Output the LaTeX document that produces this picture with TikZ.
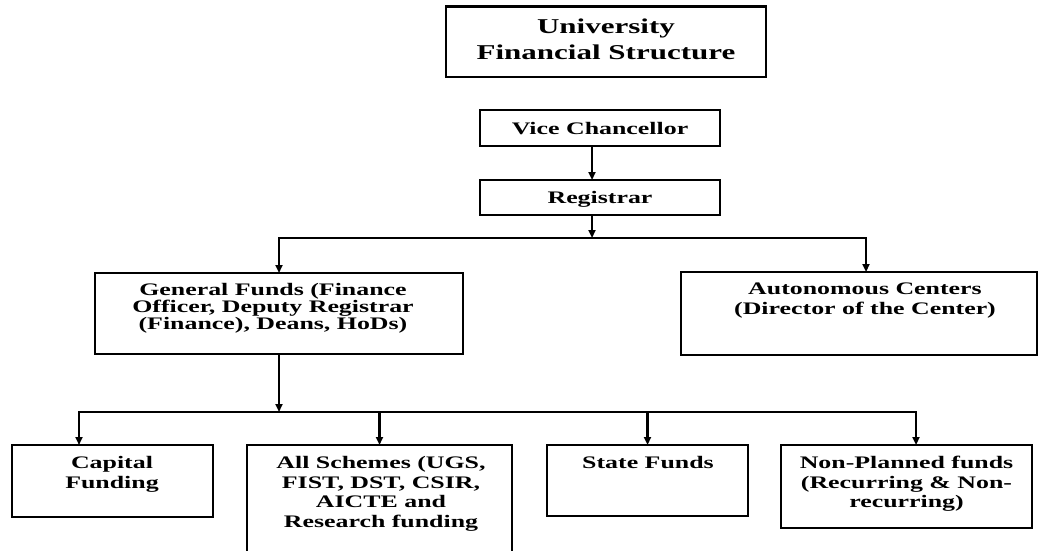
\documentclass[tikz,border=0pt]{standalone}
\usepackage{fontspec}
\newfontfamily\tnr{Liberation Serif}[FakeStretch=1.47]
\usetikzlibrary{arrows.meta}
\tikzset{headtip/.tip={Triangle[width=7pt,length=8pt]}}
\begin{document}
\begin{tikzpicture}[x=1pt,y=-1pt,
  box/.style={draw, line width=2.2pt, inner sep=0pt, outer sep=0pt},
  lbl/.style={anchor=north, inner sep=0pt, align=center,
    font=\tnr\bfseries\fontsize{17.6}{19.5}\selectfont},
  conn/.style={line width=2.2pt, line join=miter}]
\path[use as bounding box] (0,0) rectangle (1040,550);
\clip (0,0) rectangle (1040,550);

% title
\node[box, line width=2.8pt, minimum width=320, minimum height=70.5] (title) at (606,41.8) {};
\node[lbl, font=\tnr\bfseries\fontsize{21.1}{26}\selectfont] (titleT) at (606,18.8)
  {University\\Financial Structure};

% chain of command
\node[box, minimum width=240, minimum height=36] (vc) at (600,128) {};
\node[lbl] (vcT) at (600,122.3) {Vice Chancellor};
\node[box, minimum width=240, minimum height=35] (reg) at (600,197.5) {};
\node[lbl] (regT) at (600,191.2) {Registrar};

% second level
\node[box, minimum width=368, minimum height=81] (gf) at (279,313.5) {};
\node[lbl, font=\tnr\bfseries\fontsize{17.6}{15.3}\selectfont] (gfT) at (273,282.8)
  {General Funds (Finance\\Officer, Deputy Registrar\\(Finance), Deans, HoDs)};
\node[box, minimum width=356, minimum height=83] (ac) at (859,313.5) {};
\node[lbl] (acT) at (865,282.9) {Autonomous Centers\\(Director of the Center)};

% funding heads
\node[box, minimum width=201, minimum height=72] (cap) at (112.5,481) {};
\node[lbl] (capT) at (112,456.2) {Capital\\Funding};
\node[box, minimum width=265, minimum height=125] (as) at (379.5,507.5) {};
\node[lbl] (asT) at (381,456.2) {All Schemes (UGS,\\FIST, DST, CSIR,\\AICTE and\\Research funding};
\node[box, minimum width=201, minimum height=71] (sf) at (647.5,480.5) {};
\node[lbl] (sfT) at (648,456.4) {State Funds};
\node[box, minimum width=251, minimum height=83] (np) at (906.5,486.5) {};
\node[lbl] (npT) at (906.5,456.2) {Non-Planned funds\\(Recurring \& Non-\\recurring)};

% connectors
\coordinate (spine) at (592,0);
\coordinate (b1L) at (279,238);
\coordinate (b1R) at (866,238);
\coordinate (b2L) at (79,412);
\coordinate (b2R) at (916,412);

\draw[conn, -{headtip}] (vc.south -| spine) -- (reg.north -| spine);
\draw[conn, -{headtip}] (reg.south -| spine) -- (spine |- b1L);
\draw[conn, {headtip}-{headtip}] (gf.north) -- (b1L) -- (b1R) -- (ac.north -| b1R);

\draw[conn, -{headtip}] (gf.south) -- (gf.south |- b2L);
\draw[conn, {headtip}-{headtip}] (cap.north -| b2L) -- (b2L) -- (b2R) -- (np.north -| b2R);
\draw[conn, -{headtip}] (as.north |- b2L) -- (as.north);
\draw[conn, -{headtip}] (sf.north |- b2L) -- (sf.north);
\end{tikzpicture}
\end{document}
